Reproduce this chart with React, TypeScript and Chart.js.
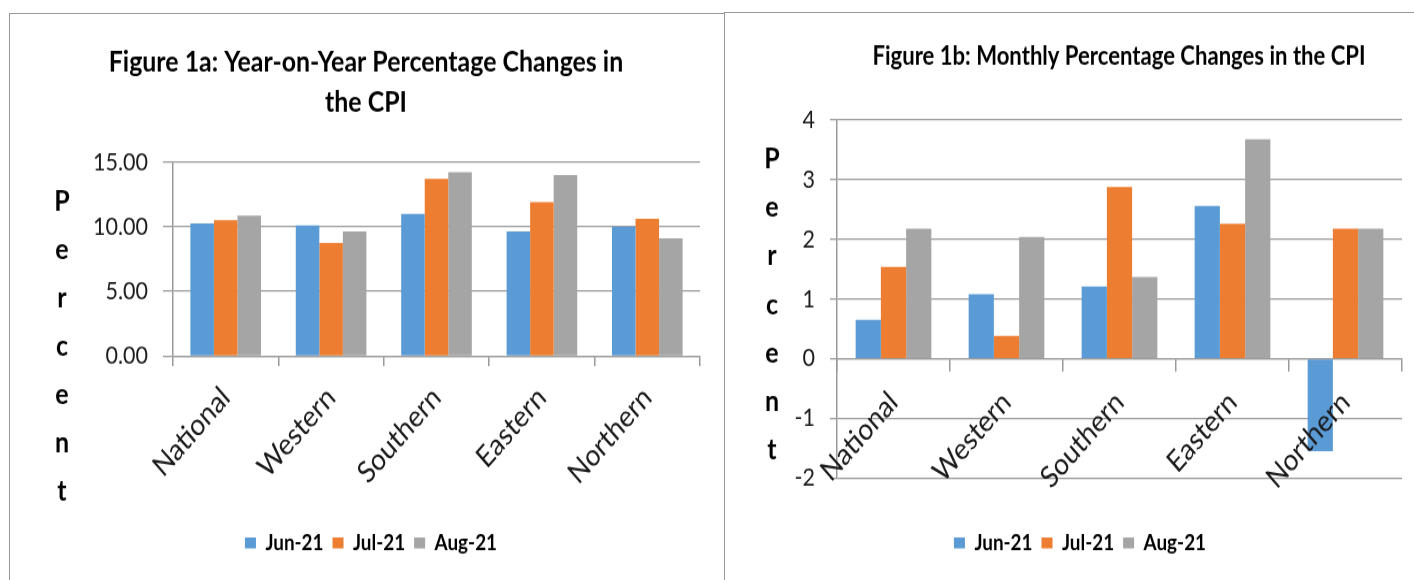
import React, { useEffect, useRef } from 'react';
import { Chart, registerables } from 'chart.js';

Chart.register(...registerables);

// ---------- data ----------
const categories = ['National', 'Western', 'Southern', 'Eastern', 'Northern'];
const seriesNames = ['Jun-21', 'Jul-21', 'Aug-21'];
const seriesColors = ['#5B9BD5', '#ED7D31', '#A5A5A5'];

// Figure 1a: year-on-year % change
const yoyJun = [10.26, 10.1, 10.98, 9.64, 9.98];
const yoyJul = [10.49, 8.74, 13.71, 11.89, 10.62];
const yoyAug = [10.85, 9.64, 14.21, 13.98, 9.1];
const yoyTicks = [0, 5, 10, 15];

// Figure 1b: monthly % change
const momJun = [0.65, 1.08, 1.21, 2.56, -1.55];
const momJul = [1.54, 0.38, 2.88, 2.26, 2.18];
const momAug = [2.18, 2.04, 1.37, 3.68, 2.18];
const momTicks = [-2, -1, 0, 1, 2, 3, 4];

const titleA = ['Figure 1a: Year-on-Year Percentage Changes in', 'the CPI'];
const titleB = ['Figure 1b: Monthly Percentage Changes in the CPI'];
const axisTitle = 'Percent';

// ---------- helpers ----------
const GRID = '#9a9a9a';
const FAMCSS = '"Lato", sans-serif';

// canvases are drawn at a reduced internal height and stretched by CSS (condensed look)
const LEFT = { left: 10, top: 14, w: 715, h: 566, ih: 492 };
const RIGHT = { left: 726, top: 13, w: 688, h: 567, ih: 493 };

function fitSize(text: string, weight: string, target: number): number {
  const c = document.createElement('canvas').getContext('2d')!;
  c.font = `${weight} 100px ${FAMCSS}`;
  const w = c.measureText(text).width;
  return Math.round((100 * target) / w * 10) / 10;
}

function textPlugin(spec: any) {
  return {
    id: 'panelText',
    afterDraw(chart: any) {
      const ctx = chart.ctx;
      ctx.save();
      ctx.fillStyle = '#000';
      ctx.textAlign = 'center';
      ctx.textBaseline = 'middle';
      ctx.font = `bold ${spec.titleSize}px ${FAMCSS}`;
      spec.lines.forEach((t: string, i: number) => ctx.fillText(t, spec.tx, spec.ty + i * spec.tgap));
      ctx.font = `bold ${spec.letterSize}px ${FAMCSS}`;
      axisTitle.split('').forEach((ch, i) => ctx.fillText(ch, spec.lx, spec.ly + i * spec.lgap));
      ctx.restore();
    },
  };
}

function datasets(a: number[], b: number[], c: number[]) {
  return [a, b, c].map((d, i) => ({
    label: seriesNames[i],
    data: d,
    backgroundColor: seriesColors[i],
    borderWidth: 0,
    categoryPercentage: 0.67,
    barPercentage: 1,
  }));
}

export default function App() {
  const leftRef = useRef<HTMLCanvasElement>(null);
  const rightRef = useRef<HTMLCanvasElement>(null);

  useEffect(() => {
    const tickSize = fitSize('15.00', 'normal', 55);
    const xLabSize = fitSize('National', 'normal', 97);
    const legendSize = fitSize('Jun-21', 'bold', 58);
    const letterSize = 25;
    const titleSizeA = fitSize(titleA[0], 'bold', 514);
    const titleSizeB = fitSize(titleB[0], 'bold', 493);

    const lp = 9;
    const ih = Math.max(legendSize, 11);

    const legendOpts = (k: number, extra: any = {}) => ({
      position: 'bottom',
      labels: {
        boxWidth: 11,
        boxHeight: 11 / k,
        padding: lp,
        color: '#000',
        font: { family: FAMCSS, size: legendSize, weight: 'bold' },
      },
      ...extra,
    });

    // ---- left chart geometry (internal units) ----
    const kA = LEFT.h / LEFT.ih;
    const HA = LEFT.ih;
    const yA = (abs: number) => (abs - LEFT.top) / kA;
    const pbA = HA - yA(543) - 10 - ih / 2;
    const legendHA = ih + lp + 10;
    const xHA = HA - pbA - legendHA - yA(356);

    const a = new Chart(leftRef.current!, {
      type: 'bar',
      data: { labels: categories, datasets: datasets(yoyJun, yoyJul, yoyAug) as any },
      options: {
        animation: false,
        responsive: false,
        devicePixelRatio: 1,
        layout: { padding: { left: 32, right: 25, top: yA(162), bottom: pbA } },
        plugins: {
          legend: legendOpts(kA) as any,
          title: { display: false },
          tooltip: { enabled: false },
        },
        scales: {
          x: {
            afterFit: (s: any) => { s.height = xHA; },
            grid: { drawOnChartArea: false, offset: true, tickLength: 10 / kA, color: GRID, lineWidth: 1.5 },
            border: { display: true, color: GRID, width: 1.3 },
            ticks: {
              autoSkip: false, maxRotation: 45, minRotation: 45, padding: 12,
              color: '#1a1a1a', font: { family: FAMCSS, size: xLabSize },
            },
          },
          y: {
            min: yoyTicks[0],
            max: yoyTicks[yoyTicks.length - 1],
            afterFit: (s: any) => { s.width = 131; },
            afterBuildTicks: (s: any) => { s.ticks = yoyTicks.map((v) => ({ value: v })); },
            grid: { color: GRID, lineWidth: 1.3, tickLength: 10 },
            border: { display: true, color: GRID, width: 1.5 },
            ticks: {
              padding: 15, color: '#1a1a1a', font: { family: FAMCSS, size: tickSize },
              callback: (v: any) => Number(v).toFixed(2),
            },
          },
        },
      } as any,
      plugins: [textPlugin({
        titleSize: titleSizeA, lines: titleA, tx: 356, ty: yA(62), tgap: 40 / kA,
        letterSize, lx: 52, ly: yA(201), lgap: 48.3 / kA,
      })],
    });

    // ---- right chart geometry (internal units) ----
    const kB = RIGHT.h / RIGHT.ih;
    const HB = RIGHT.ih;
    const yB = (abs: number) => (abs - RIGHT.top) / kB;
    const pbB = HB - yB(543) - 10 - ih / 2;
    const legendHB = HB - yB(478) - pbB;
    const spacer = Math.max(legendHB - (ih + lp + 10), 1);

    const b = new Chart(rightRef.current!, {
      type: 'bar',
      data: { labels: categories, datasets: datasets(momJun, momJul, momAug) as any },
      options: {
        animation: false,
        responsive: false,
        devicePixelRatio: 1,
        layout: { padding: { left: 32, right: 12, top: yB(120), bottom: pbB } },
        plugins: {
          legend: legendOpts(kB, {
            title: { display: true, text: ' ', font: { size: 1, lineHeight: 1 }, padding: { top: spacer - 1, bottom: 0 } },
          }) as any,
          title: { display: false },
          tooltip: { enabled: false },
        },
        scales: {
          x: {
            position: { y: 0 },
            grid: { drawOnChartArea: false, offset: true, tickLength: 12 / kB, color: GRID, lineWidth: 1.5 },
            border: { display: true, color: GRID, width: 1.3 },
            ticks: {
              z: 1, autoSkip: false, maxRotation: 45, minRotation: 45, padding: 12,
              color: '#1a1a1a', font: { family: FAMCSS, size: xLabSize },
            },
          },
          y: {
            min: momTicks[0],
            max: momTicks[momTicks.length - 1],
            afterFit: (s: any) => { s.width = 79; },
            afterBuildTicks: (s: any) => { s.ticks = momTicks.map((v) => ({ value: v })); },
            grid: { color: GRID, lineWidth: 1.3, tickLength: 7 },
            border: { display: true, color: GRID, width: 1.5 },
            ticks: {
              padding: 15, color: '#1a1a1a', font: { family: FAMCSS, size: tickSize },
              callback: (v: any) => String(v),
            },
          },
        },
      } as any,
      plugins: [textPlugin({
        titleSize: titleSizeB, lines: titleB, tx: 393, ty: yB(57), tgap: 40 / kB,
        letterSize, lx: 46, ly: yB(159), lgap: 48.5 / kB,
      })],
    });

    return () => { a.destroy(); b.destroy(); };
  }, []);

  return (
    <div style={{ position: 'fixed', left: 0, top: 0, width: 1414, height: 580, overflow: 'hidden', background: '#fff' }}>
      <div style={{ position: 'absolute', left: 9, top: 13, width: 716, height: 620, border: `1.5px solid ${GRID}`, boxSizing: 'border-box' }} />
      <div style={{ position: 'absolute', left: 724, top: 12, width: 760, height: 620, border: `1.5px solid ${GRID}`, boxSizing: 'border-box' }} />
      <canvas ref={leftRef} width={LEFT.w} height={LEFT.ih}
        style={{ position: 'absolute', left: LEFT.left, top: LEFT.top, width: LEFT.w, height: LEFT.h }} />
      <canvas ref={rightRef} width={RIGHT.w} height={RIGHT.ih}
        style={{ position: 'absolute', left: RIGHT.left, top: RIGHT.top, width: RIGHT.w, height: RIGHT.h }} />
    </div>
  );
}
